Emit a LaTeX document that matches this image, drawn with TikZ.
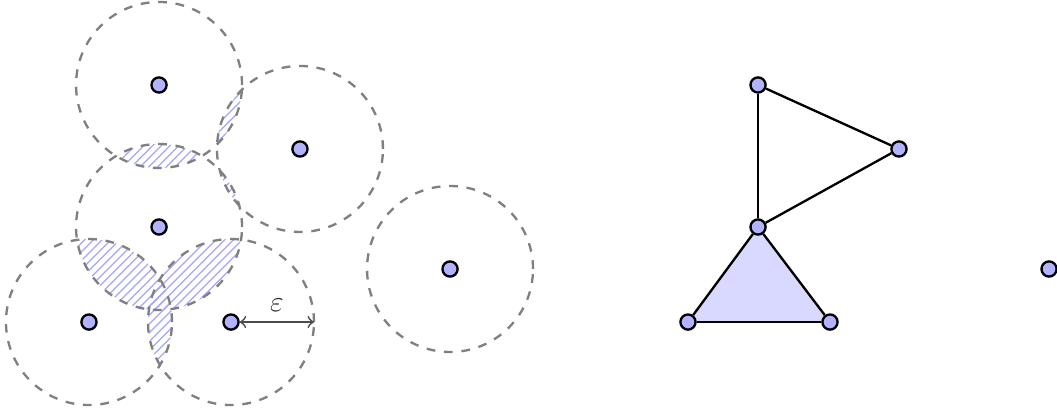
\documentclass[tikz,border=0pt]{standalone}
\usetikzlibrary{patterns, calc}

\begin{document}
\begin{tikzpicture}[
            pt/.style={circle, draw=black, thick, fill=blue!30, inner sep=0pt, minimum size=5.2pt},
            ball/.style={gray, dashed, thick},
            lens/.style={pattern=north east lines, pattern color=blue!35},
            edge/.style={thick, black},
            arr/.style={<->, semithick, black!70}
        ]
            \useasboundingbox (0,0) rectangle (12.735,4.964);
            % point cloud
            \coordinate (pa) at (1.072,1.084);
            \coordinate (pb) at (2.783,1.084);
            \coordinate (pc) at (1.916,2.229);
            \coordinate (pd) at (1.916,3.940);
            \coordinate (pe) at (3.614,3.169);
            \coordinate (pf) at (5.422,1.723);
            % overlaps of the balls
            \begin{scope} \clip (pa) circle (1); \fill[lens] (pc) circle (1); \end{scope}
            \begin{scope} \clip (pb) circle (1); \fill[lens] (pc) circle (1); \end{scope}
            \begin{scope} \clip (pa) circle (1); \fill[lens] (pb) circle (1); \end{scope}
            \begin{scope} \clip (pc) circle (1); \fill[lens] (pd) circle (1); \end{scope}
            \begin{scope} \clip (pd) circle (1); \fill[lens] (pe) circle (1); \end{scope}
            \begin{scope} \clip (pc) circle (1); \fill[lens] (pe) circle (1); \end{scope}
            \draw[ball] (pa) circle (1);
            \draw[ball] (pb) circle (1);
            \draw[ball] (pc) circle (1);
            \draw[ball] (pd) circle (1);
            \draw[ball] (pe) circle (1);
            \draw[ball] (pf) circle (1);
            \node[pt] (a) at (pa) {};
            \node[pt] (b) at (pb) {};
            \node[pt] (c) at (pc) {};
            \node[pt] (d) at (pd) {};
            \node[pt] (e) at (pe) {};
            \node[pt] (f) at (pf) {};
            \coordinate (beps) at ($(pb)+(1,0)$);
            \draw[arr] (b) -- (beps) node[midway, above, text=black!80] {$\varepsilon$};
            % complex
            \coordinate (qa) at ($(pa)+(7.217,0)$);
            \coordinate (qb) at ($(pb)+(7.217,0)$);
            \coordinate (qc) at ($(pc)+(7.217,0)$);
            \fill[blue!15] (qa) -- (qb) -- (qc) -- cycle;
            \node[pt] (a2) at (qa) {};
            \node[pt] (b2) at (qb) {};
            \node[pt] (c2) at (qc) {};
            \node[pt] (d2) at ($(pd)+(7.217,0)$) {};
            \node[pt] (e2) at ($(pe)+(7.217,0)$) {};
            \node[pt] (f2) at ($(pf)+(7.217,0)$) {};
            \draw[edge] (a2) -- (b2);
            \draw[edge] (b2) -- (c2);
            \draw[edge] (c2) -- (a2);
            \draw[edge] (c2) -- (d2);
            \draw[edge] (d2) -- (e2);
            \draw[edge] (e2) -- (c2);
        \end{tikzpicture}
\end{document}
